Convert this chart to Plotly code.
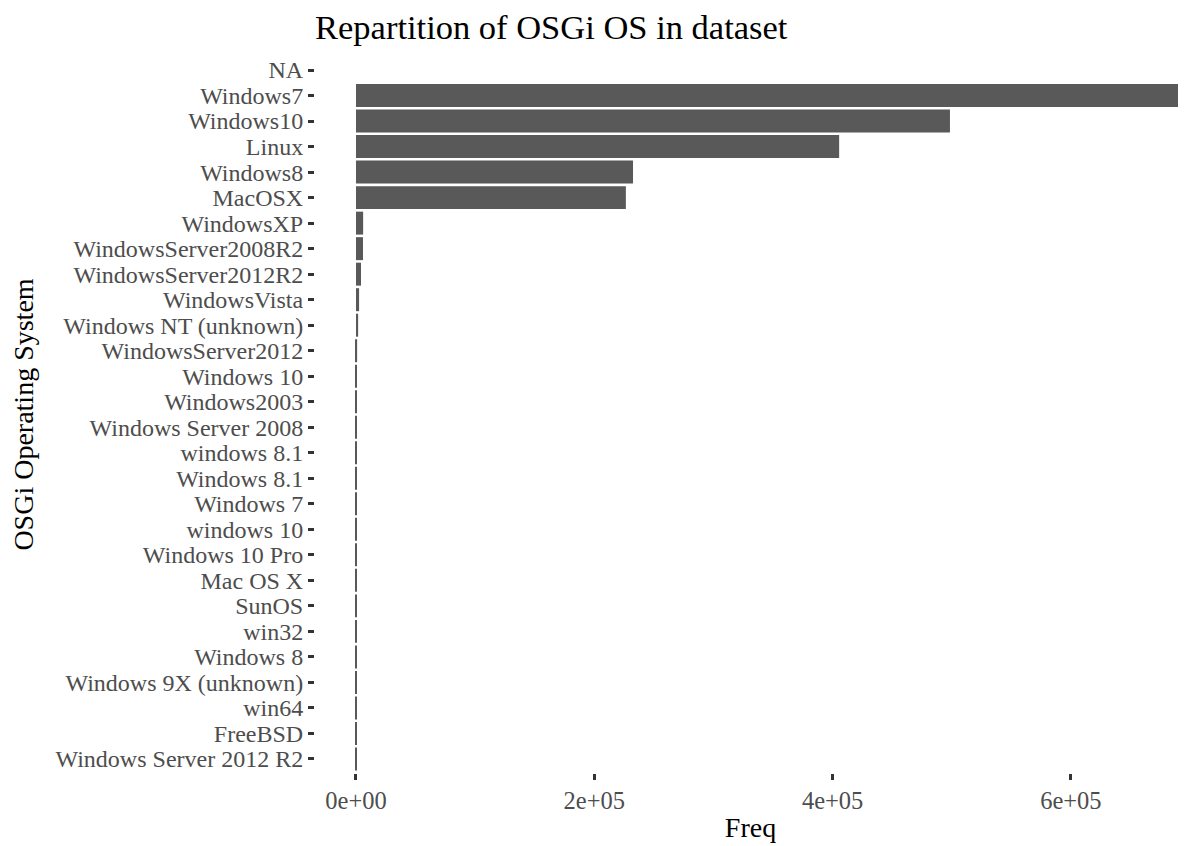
import plotly.graph_objects as go

categories = ["NA", "Windows7", "Windows10", "Linux", "Windows8", "MacOSX", "WindowsXP",
              "WindowsServer2008R2", "WindowsServer2012R2", "WindowsVista", "Windows NT (unknown)",
              "WindowsServer2012", "Windows 10", "Windows2003", "Windows Server 2008", "windows 8.1",
              "Windows 8.1", "Windows 7", "windows 10", "Windows 10 Pro", "Mac OS X", "SunOS",
              "win32", "Windows 8", "Windows 9X (unknown)", "win64", "FreeBSD", "Windows Server 2012 R2"]
freq = [None, 720000, 498500, 405500, 232500, 226500, 6000,
        5900, 4200, 2600, 1800,
        950, 800, 760, 730, 700,
        680, 660, 640, 620, 600, 580,
        560, 540, 520, 500, 480, 460]
x_ticks = [0, 200000, 400000, 600000]
x_ticklabels = ["0e+00", "2e+05", "4e+05", "6e+05"]

FONT = "Liberation Serif, Times New Roman, serif"

fig = go.Figure(go.Bar(
    y=categories, x=freq, orientation="h",
    marker=dict(color="#595959", line=dict(width=0)),
    width=0.9,
))

n = len(categories)
# page body has an 8px default margin, so the figure is 8px smaller than the window
W, H = 1178, 838
fig.update_layout(
    width=W, height=H,
    margin=dict(l=307, r=0, t=48, b=73, autoexpand=False),
    paper_bgcolor="white", plot_bgcolor="white",
    font=dict(family=FONT, color="black"),
    title=dict(text="Repartition of OSGi OS in dataset", x=0, xanchor="left",
               xref="paper", y=1 - 19 / H, yanchor="middle",
               font=dict(size=34.5, family=FONT, color="black")),
    showlegend=False,
    bargap=0.1,
)
fig.update_xaxes(
    range=[-34400, 696600], tickvals=x_ticks, ticktext=x_ticklabels,
    showgrid=False, zeroline=False, showline=False,
    ticks="outside", ticklen=6, tickwidth=2.5, tickcolor="#333333",
    tickfont=dict(size=24.5, family=FONT, color="#4d4d4d"),
    title=dict(text="Freq", font=dict(size=28, family=FONT, color="black"), standoff=3),
)
fig.update_yaxes(
    type="category", categoryorder="array", categoryarray=categories,
    tickmode="linear", tick0=0, dtick=1,
    range=[n - 1 + 0.55, -0.55],
    showgrid=False, zeroline=False, showline=False,
    ticks="outside", ticklen=6, tickwidth=2.5, tickcolor="#333333",
    tickfont=dict(size=24, family=FONT, color="#4d4d4d"),
    title=dict(text="OSGi Operating System", font=dict(size=28, family=FONT, color="black"), standoff=16),
)

fig.write_html("out.html")
